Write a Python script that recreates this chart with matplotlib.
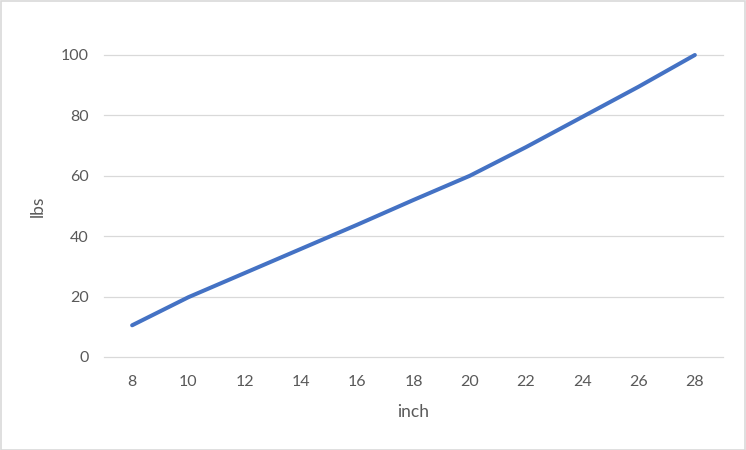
import matplotlib
matplotlib.use("Agg")
import matplotlib.pyplot as plt
from matplotlib.patches import Rectangle

categories = ["8", "10", "12", "14", "16", "18", "20", "22", "24", "26", "28"]
lbs = [10.5, 19.8, 27.8, 35.8, 43.8, 52.0, 60.0, 69.5, 79.5, 89.5, 100.0]
y_ticks = [0, 20, 40, 60, 80, 100]

plt.rcParams['font.family'] = ['Lato', 'DejaVu Sans']

fig = plt.figure(figsize=(7.46, 4.5), dpi=100)
ax = fig.add_axes([104/746, 1-357/450, (723-104)/746, (357-55)/450])

x = list(range(len(categories)))
ax.plot(x, lbs, color="#4472C4", linewidth=2.9, solid_capstyle="round",
        solid_joinstyle="round", clip_on=False, zorder=3)

ax.set_xlim(-0.5, len(categories) - 0.5)
ax.set_ylim(0, 100)
ax.set_yticks(y_ticks)
ax.set_yticklabels([str(v) for v in y_ticks])
ax.set_xticks(x)
ax.set_xticklabels(categories)
ax.grid(axis="y", color="#D9D9D9", linewidth=0.9)
for gl in ax.yaxis.get_gridlines():
    gl.set_clip_on(False)
ax.set_axisbelow(True)
for s in ax.spines.values():
    s.set_visible(False)
ax.tick_params(axis="both", length=0, labelsize=11.5, labelcolor="#595959")
ax.tick_params(axis="y", pad=11)
ax.tick_params(axis="x", pad=13)
ax.set_xlabel("inch", fontsize=12.5, color="#595959", labelpad=11)
ax.set_ylabel("lbs", fontsize=12.5, color="#595959", labelpad=11)

fig.patches.append(Rectangle((0.5/746, 0.5/450), 1-1.5/746, 1-1.5/450,
                             transform=fig.transFigure, fill=False,
                             edgecolor="#D9D9D9", linewidth=1.2))

fig.savefig("out.png", dpi=100)
